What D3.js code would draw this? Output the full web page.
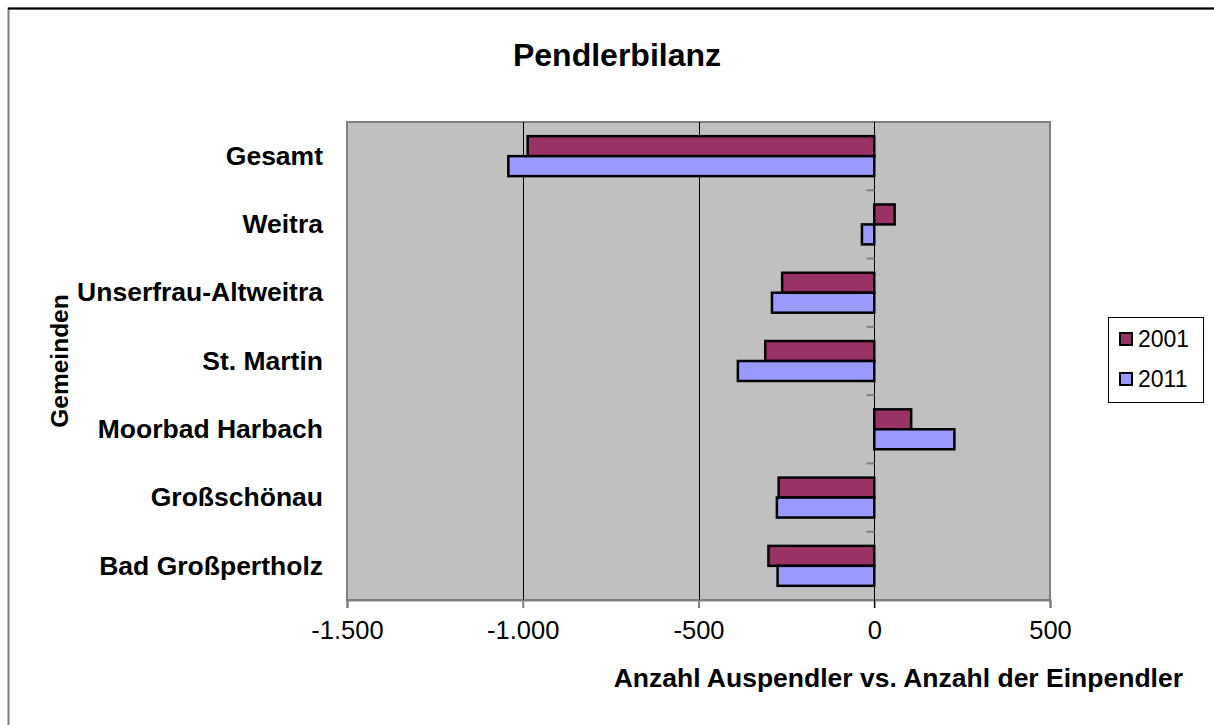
<!DOCTYPE html>
<html>
<head>
<meta charset="utf-8">
<script src="https://cdn.jsdelivr.net/npm/d3@7"></script>
<style>
  body { margin: 0; background: #fff; }
  text { font-family: "Liberation Sans", Arial, sans-serif; }
</style>
</head>
<body>
<div id="chart"></div>
<script>
// data
const gemeinden = ["Gesamt", "Weitra", "Unserfrau-Altweitra", "St. Martin",
  "Moorbad Harbach", "Großschönau", "Bad Großpertholz"];
const jahre = ["2001", "2011"];
const werte2001 = [-986, 58, -262, -310, 105, -272, -301];
const werte2011 = [-1041, -35, -291, -388, 228, -277, -275];
const xTicks = [-1500, -1000, -500, 0, 500];
const farben = {"2001": "#993366", "2011": "#9999FF"};

const W = 1214, H = 725;
const plot = {left: 347, right: 1050, top: 122, bottom: 600};

var svg = d3.select("#chart").append("svg")
  .attr("width", W)
  .attr("height", H);

// outer chart frame (only top / left visible in the picture)
svg.append("rect")
  .attr("x", 8.5).attr("y", 8.5)
  .attr("width", W + 20).attr("height", H + 20)
  .attr("fill", "#fff")
  .attr("stroke", "#808080").attr("stroke-width", 2);
svg.append("line")
  .attr("x1", 8).attr("x2", W).attr("y1", 8.5).attr("y2", 8.5)
  .attr("stroke", "#000").attr("stroke-width", 2);

var x = d3.scaleLinear()
  .domain([xTicks[0], xTicks[xTicks.length - 1]])
  .range([plot.left, plot.right]);

var y0 = d3.scaleBand()
  .domain(gemeinden)
  .range([plot.top, plot.bottom]);

var y1 = d3.scaleBand()
  .domain(jahre)
  .range([0, y0.bandwidth()])
  .paddingOuter(0.71);

// plot area
svg.append("rect")
  .attr("x", plot.left).attr("y", plot.top)
  .attr("width", plot.right - plot.left).attr("height", plot.bottom - plot.top)
  .attr("fill", "#C0C0C0")
  .attr("stroke", "#808080").attr("stroke-width", 2);

// vertical gridlines
svg.append("g")
  .selectAll("line")
  .data(xTicks.slice(1, -1))
  .enter().append("line")
    .attr("x1", d => Math.round(x(d)) + 0.5).attr("x2", d => Math.round(x(d)) + 0.5)
    .attr("y1", plot.top).attr("y2", plot.bottom)
    .attr("stroke", "#000").attr("stroke-width", 1);

// x axis, German number format
var de = d3.formatLocale({decimal: ",", thousands: ".", grouping: [3], currency: ["", " €"], minus: "-"});
var xAxis = svg.append("g")
  .attr("transform", "translate(0," + plot.bottom + ")")
  .call(d3.axisBottom(x).tickValues(xTicks).tickFormat(de.format(",d")).tickSize(8).tickPadding(13));
xAxis.select(".domain").attr("stroke", "#808080").attr("stroke-width", 2);
xAxis.selectAll(".tick line").attr("stroke", "#808080").attr("stroke-width", 2);
xAxis.selectAll("text")
  .attr("fill", "#000")
  .style("font-size", "25.5px")
  .style("font-family", "'Liberation Sans', Arial, sans-serif");

// bars
var series = jahre.map(function(j) {
  var vals = j == "2001" ? werte2001 : werte2011;
  return gemeinden.map(function(g, i) { return {gemeinde: g, jahr: j, wert: vals[i]}; });
});

svg.append("g")
  .selectAll("g")
  .data(series)
  .enter().append("g")
  .selectAll("rect")
  .data(d => d)
  .enter().append("rect")
    .attr("x", d => x(Math.min(0, d.wert)))
    .attr("y", d => y0(d.gemeinde) + y1(d.jahr))
    .attr("width", d => Math.abs(x(d.wert) - x(0)))
    .attr("height", y1.bandwidth())
    .attr("fill", d => farben[d.jahr])
    .attr("stroke", "#000").attr("stroke-width", 2.5);

// category axis at zero
var zeroX = Math.round(x(0)) + 0.5;
svg.append("line")
  .attr("x1", zeroX).attr("x2", zeroX)
  .attr("y1", plot.top).attr("y2", plot.bottom + 8)
  .attr("stroke", "#000").attr("stroke-width", 1);
svg.append("g")
  .selectAll("line")
  .data(gemeinden.slice(1))
  .enter().append("line")
    .attr("x1", zeroX - 8).attr("x2", zeroX)
    .attr("y1", d => y0(d)).attr("y2", d => y0(d))
    .attr("stroke", "#808080").attr("stroke-width", 2);

// category labels
svg.append("g")
  .selectAll("text")
  .data(gemeinden)
  .enter().append("text")
    .attr("x", 323)
    .attr("y", d => y0(d) + y0.bandwidth() / 2)
    .attr("dy", "0.33em")
    .attr("text-anchor", "end")
    .style("font-size", "26.5px")
    .style("font-weight", "bold")
    .text(d => d);

// titles
svg.append("text")
  .attr("x", 617).attr("y", 66)
  .attr("text-anchor", "middle")
  .style("font-size", "32px").style("font-weight", "bold")
  .text("Pendlerbilanz");

svg.append("text")
  .attr("x", 1183).attr("y", 687)
  .attr("text-anchor", "end")
  .style("font-size", "26.5px").style("font-weight", "bold")
  .text("Anzahl Auspendler vs. Anzahl der Einpendler");

svg.append("text")
  .attr("transform", "translate(68,361) rotate(-90)")
  .attr("text-anchor", "middle")
  .style("font-size", "24.5px").style("font-weight", "bold")
  .text("Gemeinden");

// legend
var legend = svg.append("g");
legend.append("rect")
  .attr("x", 1108.5).attr("y", 317.5)
  .attr("width", 95).attr("height", 85)
  .attr("fill", "#fff").attr("stroke", "#000").attr("stroke-width", 1);
var items = legend.selectAll("g.item")
  .data(jahre)
  .enter().append("g")
    .attr("class", "item")
    .attr("transform", (d, i) => "translate(1120," + (333 + i * 40) + ")");
items.append("rect")
  .attr("width", 12).attr("height", 12)
  .attr("fill", d => farben[d])
  .attr("stroke", "#000").attr("stroke-width", 2);
items.append("text")
  .attr("x", 18).attr("y", 6).attr("dy", "0.35em")
  .style("font-size", "23px")
  .text(d => d);
</script>
</body>
</html>
